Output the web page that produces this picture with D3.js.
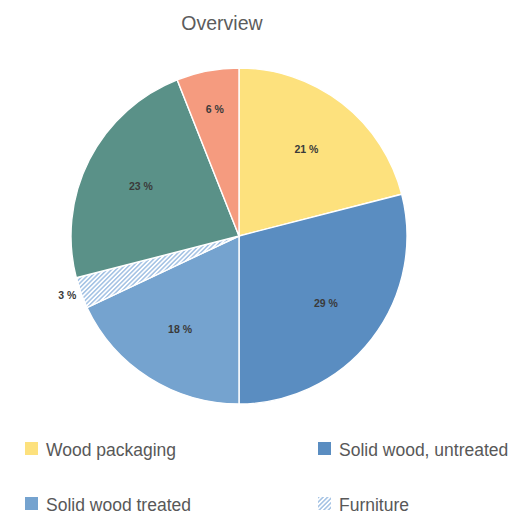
<!DOCTYPE html>
<html>
<head>
<meta charset="utf-8">
<script src="https://cdn.jsdelivr.net/npm/d3@7"></script>
<style>
  html, body { margin: 0; padding: 0; background: #fff; }
  svg { display: block; font-family: "Liberation Sans", Arial, sans-serif; }
</style>
</head>
<body>
<svg id="chart" width="516" height="517"></svg>
<script>
// Share of each wood category, drawn clockwise from 12 o'clock
const categories = ["Wood packaging", "Solid wood, untreated", "Solid wood treated", "Furniture", "Wood waste", "Other"];
const shares = [21, 29, 18, 3, 23, 6];
const colors = ["#fde17d", "#5a8dc1", "#75a3cf", "hatch", "#5a9188", "#f59b7f"];
const legendItems = [0, 1, 2, 3];

const svg = d3.select("#chart");
const cx = 239, cy = 236, radius = 168;

// Diagonal hatch used for the furniture slice
const defs = svg.append("defs");
const pat = defs.append("pattern")
  .attr("id", "hatch")
  .attr("patternUnits", "userSpaceOnUse")
  .attr("width", 3.2).attr("height", 3.2)
  .attr("patternTransform", "rotate(45)");
pat.append("rect").attr("width", 3.2).attr("height", 3.2).attr("fill", "#ffffff");
pat.append("line").attr("x1", 0.8).attr("y1", 0).attr("x2", 0.8).attr("y2", 3.2)
  .attr("stroke", "#94b8e0").attr("stroke-width", 1.3);

const fillFor = i => colors[i] === "hatch" ? "url(#hatch)" : colors[i];

// Title
svg.append("text")
  .attr("x", 222).attr("y", 30)
  .attr("text-anchor", "middle")
  .attr("font-size", 19.5)
  .attr("fill", "#5c5c5c")
  .text("Overview");

const pie = d3.pie().sort(null).value(d => d)(shares);
const arc = d3.arc().innerRadius(0).outerRadius(radius);

const g = svg.append("g").attr("transform", `translate(${cx},${cy})`);

g.selectAll("path.slice")
  .data(pie)
  .join("path")
  .attr("class", "slice")
  .attr("d", arc)
  .attr("fill", (d, i) => fillFor(i))
  .attr("stroke", "#ffffff")
  .attr("stroke-width", 1.4);

// Percentage labels: inside for most slices (pushed outward for narrow ones),
// just outside the rim for the smallest
g.selectAll("text.pct")
  .data(pie)
  .join("text")
  .attr("class", "pct")
  .each(function (d) {
    const outside = d.data < 5;
    const mid = (d.startAngle + d.endAngle) / 2;
    const r = outside ? radius + 5 : (d.data < 10 ? radius * 0.77 : radius * 0.655);
    d3.select(this)
      .attr("x", Math.sin(mid) * r)
      .attr("y", -Math.cos(mid) * r)
      .attr("text-anchor", outside ? "end" : "middle")
      .attr("dominant-baseline", "central");
  })
  .attr("font-size", 10.5)
  .attr("font-weight", "bold")
  .attr("fill", "#3a3a3a")
  .text(d => `${d.data} %`);

// Legend, two columns
const legendCols = [25, 318];
const legendRows = [449, 504];
const lg = svg.append("g");
legendItems.forEach((idx, k) => {
  const x = legendCols[k % 2];
  const y = legendRows[Math.floor(k / 2)];
  lg.append("rect")
    .attr("x", x).attr("y", y - 7)
    .attr("width", 13).attr("height", 13)
    .attr("fill", fillFor(idx));
  lg.append("text")
    .attr("x", x + 21).attr("y", y + 1)
    .attr("dominant-baseline", "central")
    .attr("font-size", 17.5)
    .attr("fill", "#585858")
    .text(categories[idx]);
});
</script>
</body>
</html>
